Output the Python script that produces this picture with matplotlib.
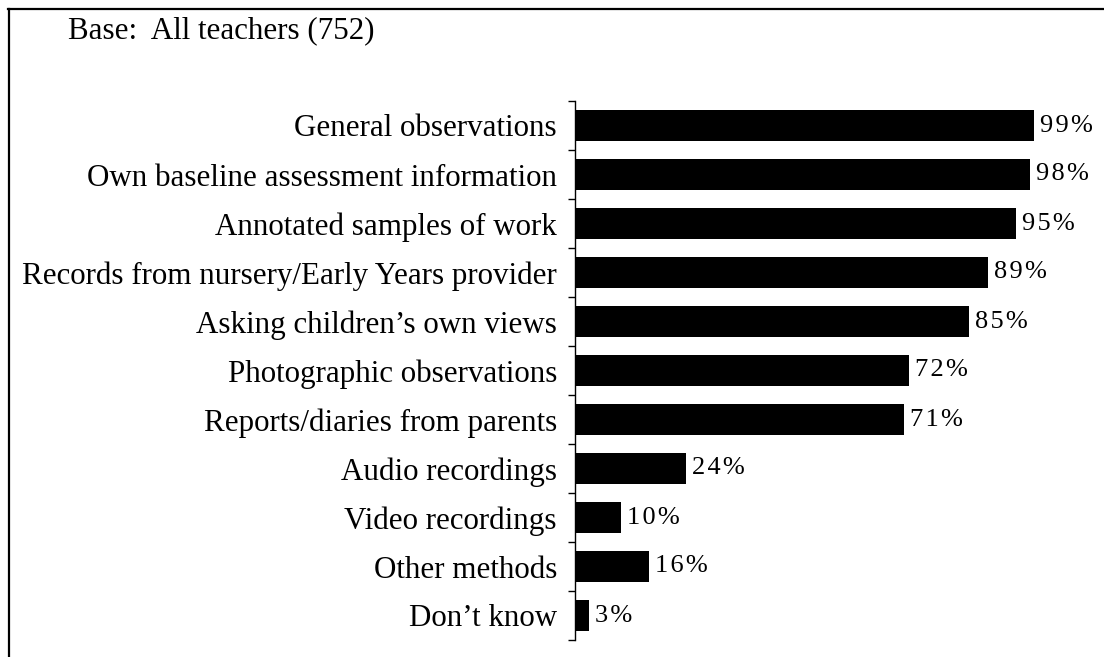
import matplotlib.pyplot as plt
from matplotlib.lines import Line2D
import numpy as np

categories = [
    "General observations",
    "Own baseline assessment information",
    "Annotated samples of work",
    "Records from nursery/Early Years provider",
    "Asking children\u2019s own views",
    "Photographic observations",
    "Reports/diaries from parents",
    "Audio recordings",
    "Video recordings",
    "Other methods",
    "Don\u2019t know",
]
values = [99, 98, 95, 89, 85, 72, 71, 24, 10, 16, 3]
base_text = "Base:  All teachers (752)"

plt.rcParams['font.family'] = ['Liberation Serif', 'DejaVu Serif']

W, H = 1104, 657
fig = plt.figure(figsize=(W / 100, H / 100), dpi=100)

# axes placed in pixel coordinates
left, right, top, bottom = 575, 1039, 101, 640
ax = fig.add_axes([left / W, 1 - bottom / H, (right - left) / W, (bottom - top) / H])

y = np.arange(len(categories))
ax.barh(y, values, height=0.65, color='black')
ax.set_xlim(0, 100)
ax.set_ylim(len(categories) - 0.5, -0.5)

# value labels are drawn with a little letter spacing, as in the original
for yi, v in zip(y, values):
    lab = "\u200a".join(f"{v}%")
    ax.text(v + 1.3, yi, lab, va='center', ha='left', fontsize=19)

ax.set_yticks(y)
ax.set_yticklabels(categories, fontsize=22.3)
ax.set_yticks(np.arange(len(categories) + 1) - 0.5, minor=True)
ax.tick_params(axis='y', which='major', length=0, pad=13)
ax.tick_params(axis='y', which='minor', length=5, width=1)
ax.set_xticks([])

for s in ['top', 'right', 'bottom']:
    ax.spines[s].set_visible(False)
ax.spines['left'].set_linewidth(1)

# outer frame (top and left only)
fig.add_artist(Line2D([8 / W, 1], [1 - 9 / H, 1 - 9 / H], color='black', lw=1.6,
                      transform=fig.transFigure))
fig.add_artist(Line2D([9 / W, 9 / W], [0, 1 - 9 / H], color='black', lw=1.6,
                      transform=fig.transFigure))

fig.text(68 / W, 1 - 31 / H, base_text, fontsize=22.3, va='center', ha='left')

fig.savefig('out.png', dpi=100)
